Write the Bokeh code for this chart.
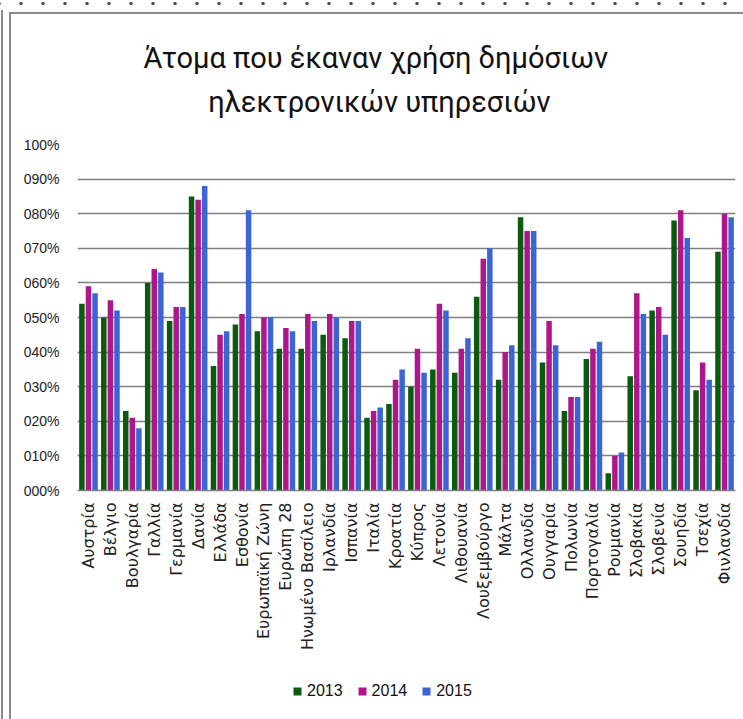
from bokeh.plotting import figure
from bokeh.layouts import column
from bokeh.models import (ColumnDataSource, FactorRange, Legend, LegendItem, Title,
                          FixedTicker, Range1d)
from bokeh.transform import dodge
from bokeh.embed import file_html
from bokeh.resources import INLINE

countries = ["Αυστρία", "Βέλγιο", "Βουλγαρία", "Γαλλία", "Γερμανία", "Δανία", "Ελλάδα",
             "Εσθονία", "Ευρωπαϊκή Ζώνη", "Ευρώπη 28", "Ηνωμένο Βασίλειο", "Ιρλανδία",
             "Ισπανία", "Ιταλία", "Κροατία", "Κύπρος", "Λετονία", "Λιθουανία",
             "Λουξεμβούργο", "Μάλτα", "Ολλανδία", "Ουγγαρία", "Πολωνία", "Πορτογαλία",
             "Ρουμανία", "Σλοβακία", "Σλοβενία", "Σουηδία", "Τσεχία", "Φινλανδία"]
v2013 = [54, 50, 23, 60, 49, 85, 36, 48, 46, 41, 41, 45, 44, 21, 25, 30, 35, 34, 56, 32,
         79, 37, 23, 38, 5, 33, 52, 78, 29, 69]
v2014 = [59, 55, 21, 64, 53, 84, 45, 51, 50, 47, 51, 51, 49, 23, 32, 41, 54, 41, 67, 40,
         75, 49, 27, 41, 10, 57, 53, 81, 37, 80]
v2015 = [57, 52, 18, 63, 53, 88, 46, 81, 50, 46, 49, 50, 49, 24, 35, 34, 52, 44, 70, 42,
         75, 42, 27, 43, 11, 51, 45, 73, 32, 79]
years = ["2013", "2014", "2015"]
y_ticks = [0, 10, 20, 30, 40, 50, 60, 70, 80, 90, 100]
y_tick_labels = ["000%", "010%", "020%", "030%", "040%", "050%", "060%", "070%", "080%",
                 "090%", "100%"]
# second line padded with no-break spaces so that both lines are centred
title_text = "Άτομα που έκαναν χρήση δημόσιων\n" + "\u00a0" * 9 + "ηλεκτρονικών υπηρεσιών"

colors = ["#0c5a10", "#b0168c", "#3d64d4"]
cols = ["y2013", "y2014", "y2015"]
offsets = [-0.3, 0.0, 0.3]

src = ColumnDataSource(dict(c=countries, y2013=v2013, y2014=v2014, y2015=v2015))

p = figure(width=743, height=670, x_range=FactorRange(*countries),
           y_range=(0, 100), output_backend="svg", toolbar_location=None,
           title=None, min_border_left=77, min_border_right=8, min_border_top=144,
           min_border_bottom=180)
p.x_range.range_padding = 0
p.border_fill_color = None

for off, col, c in zip(offsets, cols, colors):
    p.vbar(x=dodge("c", off, range=p.x_range), top=col, width=0.25, source=src,
           color=c, line_color=None)

p.add_layout(Title(text=title_text, align="left", offset=66, text_font="Roboto",
                   text_font_size="29px", text_font_style="normal", text_color="#111111",
                   text_line_height=1.3, standoff=50), "above")

p.yaxis.ticker = FixedTicker(ticks=y_ticks)
p.yaxis.major_label_overrides = {t: l for t, l in zip(y_ticks, y_tick_labels)}
p.yaxis.axis_line_color = None
p.yaxis.major_tick_line_color = None
p.yaxis.minor_tick_line_color = None
p.yaxis.major_label_text_font = "Liberation Sans"
p.yaxis.major_label_text_font_size = "14px"
p.yaxis.major_label_text_color = "#222222"
p.yaxis.major_label_standoff = 12

p.xaxis.major_label_orientation = 1.5708
p.xaxis.axis_line_color = "#808080"
p.xaxis.axis_line_width = 1.5
p.xaxis.major_tick_line_color = None
p.xaxis.minor_tick_line_color = None
p.xaxis.major_label_text_font = "DejaVu Sans"
p.xaxis.major_label_text_font_size = "16px"
p.xaxis.major_label_text_color = "#222222"
p.xaxis.major_label_standoff = 6

p.xgrid.grid_line_color = None
p.ygrid.grid_line_color = "#808080"
p.ygrid.grid_line_width = 1.5
p.outline_line_color = None

# legend strip below the chart (its bars lie outside its visible y range)
lg = figure(width=743, height=49, output_backend="svg", toolbar_location=None,
            min_border=0, x_range=p.x_range, y_range=Range1d(1000, 1001))
lg.axis.visible = False
lg.grid.visible = False
lg.outline_line_color = None
lg.border_fill_color = None
lg.background_fill_color = None
lrs = [lg.vbar(x=dodge("c", off, range=p.x_range), top=col, width=0.25, source=src,
               color=c, line_color=None) for off, col, c in zip(offsets, cols, colors)]
legend = Legend(items=[LegendItem(label=y, renderers=[r]) for y, r in zip(years, lrs)],
                orientation="horizontal", location=(215, 19),
                label_text_font="Liberation Sans", label_text_color="#111111",
                label_text_font_size="16px", glyph_width=10, glyph_height=10, spacing=14,
                label_standoff=5, border_line_color=None, background_fill_alpha=0,
                margin=0, padding=4)
lg.add_layout(legend)

frame_bg = ("radial-gradient(circle,#555 1.4px,transparent 2px) 10px 0/22px 7px repeat-x,"
            "linear-gradient(#8a8a8a,#8a8a8a) 9px 12px/734px 2px no-repeat,"
            "linear-gradient(#8a8a8a,#8a8a8a) 9px 12px/2px 707px no-repeat,"
            "linear-gradient(#8a8a8a,#8a8a8a) 1px 10px/2px 709px no-repeat,"
            "#ffffff")
layout = column(p, lg, styles={"background": frame_bg, "overflow": "hidden"})

open("out.html", "w").write(file_html(layout, INLINE))
